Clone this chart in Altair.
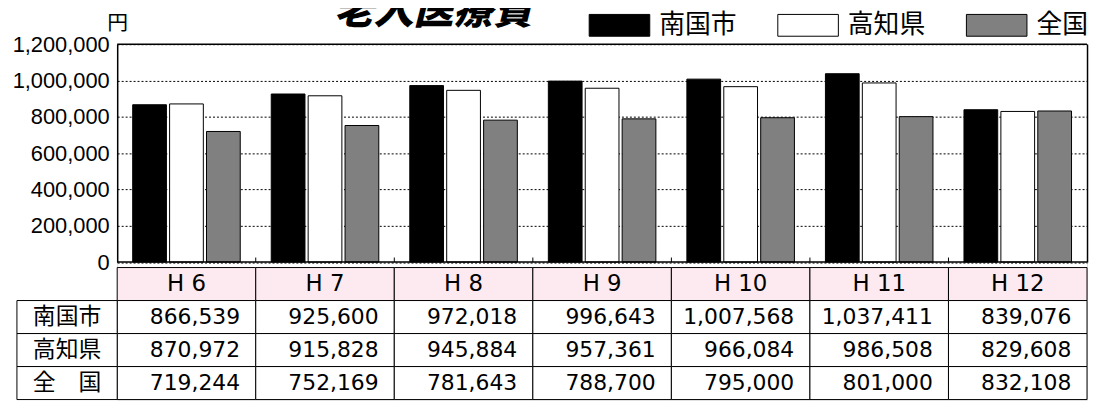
import altair as alt
import pandas as pd

# ---- data ----
categories = ["H 6", "H 7", "H 8", "H 9", "H 10", "H 11", "H 12"]
series = ["南国市", "高知県", "全国"]
row_labels = ["南国市", "高知県", "全　国"]
nangoku = [866539, 925600, 972018, 996643, 1007568, 1037411, 839076]
kochi = [870972, 915828, 945884, 957361, 966084, 986508, 829608]
zenkoku = [719244, 752169, 781643, 788700, 795000, 801000, 832108]
y_ticks = [0, 200000, 400000, 600000, 800000, 1000000, 1200000]
frame_values = [0, 1200000]
colors = ["#000000", "#ffffff", "#808080"]
title_text = "老人医療費"
unit_text = "円"

# ---- tables built from the lists ----
rows = []
for s, lab, vals in zip(series, row_labels, [nangoku, kochi, zenkoku]):
    for c, v in zip(categories, vals):
        rows.append({"cat": c, "series": s, "row": lab, "value": v})
df = pd.DataFrame(rows)
hdr_df = pd.DataFrame({"cat": categories, "row": ["hdr"] * len(categories)})
lab_df = pd.DataFrame({"col": ["label"] * len(row_labels), "row": row_labels})
tick_df = pd.DataFrame({"cat": categories[1:], "y0": [0] * 6, "y1": [25000] * 6})
frame_df = pd.DataFrame({"v": frame_values})

W, H = 977, 358
PLOT_H = 219.5
row_domain = ["hdr"] + row_labels

x_cat = alt.Scale(domain=categories, paddingInner=0, paddingOuter=0)
y_val = alt.Scale(domain=[0, 1200000], range=[PLOT_H, 0], nice=False)
y_row = alt.Scale(domain=row_domain, range=[225, H], paddingInner=0, paddingOuter=0)
x_lab = alt.Scale(domain=["label"], range=[-101, 0], paddingInner=0, paddingOuter=0)

bars = alt.Chart(df).mark_bar(stroke="black", strokeWidth=1).encode(
    x=alt.X("cat:N", scale=x_cat, sort=categories, axis=None),
    xOffset=alt.XOffset("series:N", sort=series,
                        scale=alt.Scale(domain=series, paddingInner=0.086, paddingOuter=0.42)),
    y=alt.Y("value:Q", scale=y_val,
            axis=alt.Axis(values=y_ticks, format=",d", ticks=False, labelPadding=8,
                          labelFont="Liberation Sans", labelFontSize=22, labelColor="black",
                          domainColor="black", domainWidth=1.5,
                          grid=True, gridColor="black", gridDash=[2, 2], gridWidth=1, gridOpacity=1,
                          title=unit_text, titleAngle=0, titleX=0, titleY=-21,
                          titleAlign="center", titleBaseline="middle",
                          titleFont="Noto Sans CJK JP", titleFontSize=21,
                          titleFontWeight="normal", titleColor="black")),
    color=alt.Color("series:N",
                    scale=alt.Scale(domain=series, range=colors),
                    legend=alt.Legend(orient="none", legendX=475, legendY=-50,
                                      direction="horizontal", title=None,
                                      symbolType="M-1,-0.36H1V0.36H-1Z", symbolSize=3721,
                                      symbolStrokeColor="black", symbolStrokeWidth=1,
                                      symbolOpacity=1, labelFont="Noto Sans CJK JP",
                                      labelFontSize=26, labelColor="black", labelOffset=9,
                                      columnPadding=38, padding=0, labelLimit=300)),
)

frame = alt.Chart(frame_df).mark_rule(color="black", strokeWidth=1.5).encode(
    y=alt.Y("v:Q", scale=y_val,
            axis=alt.Axis(orient="right", labels=False, ticks=False, grid=False,
                          domain=True, domainColor="black", domainWidth=1.5, title=None)),
)

cat_ticks = alt.Chart(tick_df).mark_rule(color="black", strokeWidth=1).encode(
    x=alt.X("cat:N", scale=x_cat, bandPosition=0,
            axis=alt.Axis(orient="top", labels=False, ticks=False, domain=False, grid=False,
                          title=title_text, titleX=318, titleY=-21,
                          titleAlign="center", titleBaseline="alphabetic",
                          titleFont="Noto Sans CJK JP", titleFontSize=40,
                          titleFontWeight=900, titleFontStyle="italic", titleColor="black")),
    y=alt.Y("y0:Q", scale=y_val, axis=None),
    y2="y1:Q",
)

hdr_rect = alt.Chart(hdr_df).mark_rect(fill="#fdeaf0", stroke="black", strokeWidth=1).encode(
    x=alt.X("cat:N", scale=x_cat, axis=None),
    y=alt.Y("row:N", scale=y_row, axis=None),
)
hdr_text = alt.Chart(hdr_df).mark_text(font="DejaVu Sans", fontSize=23, color="black",
                                       baseline="middle").encode(
    x=alt.X("cat:N", scale=x_cat, axis=None),
    y=alt.Y("row:N", scale=y_row, axis=None),
    text="cat:N",
)

cell_rect = alt.Chart(df).mark_rect(fill="white", stroke="black", strokeWidth=1).encode(
    x=alt.X("cat:N", scale=x_cat, axis=None),
    y=alt.Y("row:N", scale=y_row, axis=None),
)
cell_text = alt.Chart(df).mark_text(font="DejaVu Sans", fontSize=22, color="black",
                                    align="right", baseline="middle", dx=54).encode(
    x=alt.X("cat:N", scale=x_cat, axis=None),
    y=alt.Y("row:N", scale=y_row, axis=None),
    text=alt.Text("value:Q", format=",d"),
)

lab_rect = alt.Chart(lab_df).mark_rect(fill="white", stroke="black", strokeWidth=1).encode(
    x=alt.X("col:N", scale=x_lab, axis=None),
    y=alt.Y("row:N", scale=y_row, axis=None),
)
lab_text = alt.Chart(lab_df).mark_text(font="Noto Sans CJK JP", fontSize=23, color="black",
                                       baseline="middle").encode(
    x=alt.X("col:N", scale=x_lab, axis=None),
    y=alt.Y("row:N", scale=y_row, axis=None),
    text="row:N",
)

chart = alt.layer(
    bars, frame, cat_ticks, hdr_rect, hdr_text, cell_rect, cell_text, lab_rect, lab_text
).resolve_scale(
    x="independent", y="independent"
).properties(
    width=W, height=H,
    padding={"left": 110, "top": 35, "right": 3, "bottom": 1},
    autosize=alt.AutoSizeParams(type="none"),
).configure_view(stroke=None).configure(background="white")

chart.save("out.html", embed_options={"renderer": "svg", "actions": False})
